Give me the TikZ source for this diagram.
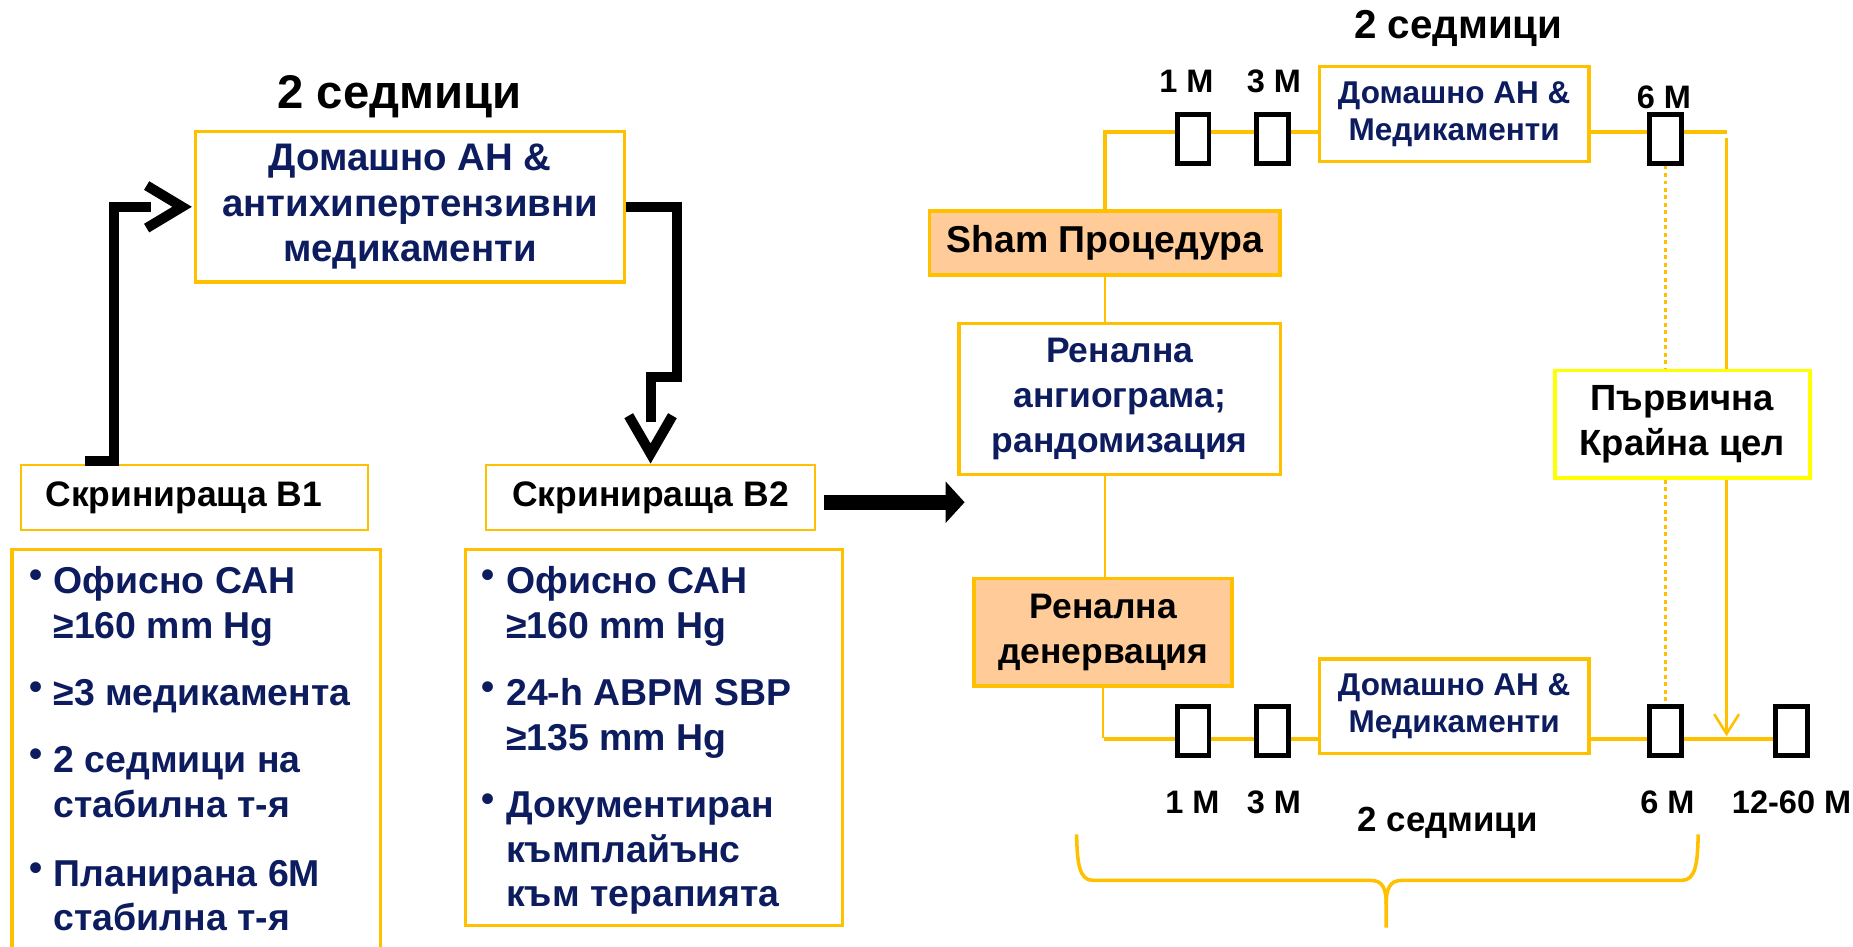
\documentclass[tikz,border=0pt]{standalone}
\usepackage{fontspec}
\setmainfont{Liberation Sans}
\usetikzlibrary{arrows.meta,calc}
\pgfdeclarelayer{bg}
\pgfsetlayers{bg,main}
\definecolor{gold}{HTML}{FFC000}
\definecolor{navy}{HTML}{0C1C5E}
\definecolor{peach}{HTML}{FFCC99}
\definecolor{brightyellow}{HTML}{FFFF00}
\newlength\sunit
\setlength\sunit{0.6pt}
\newcommand\fsz[2]{\fontsize{#1}{#2}\selectfont\bfseries}
\begin{document}
\begin{tikzpicture}[x=0.6pt,y=-0.6pt,
 every node/.style={inner sep=0pt},
 goldbox/.style={draw=gold, fill=white, line width=1.7pt, align=center},
 labelbox/.style={draw=gold, fill=white, line width=0.9pt, align=center, text=black, font=\fsz{18}{22}},
 listbox/.style={draw=gold, line width=1.8pt},
 peachbox/.style={draw=gold, fill=peach, line width=2pt, align=center, text=black},
 msbox/.style={draw=black, fill=white, line width=2.5pt, minimum width=27\sunit, minimum height=41\sunit},
 mlabel/.style={anchor=base, font=\fsz{16.5}{20}},
 listtext/.style={anchor=base west, text=navy, font=\fsz{19}{23}},
 listbullet/.style={text=navy, font=\fsz{19}{23}},
 elbow/.style={draw=black, line width=5.1pt, line join=miter},
 chev/.style={draw=black, line width=5.1pt, line join=miter},
 bigarrow/.style={draw=black, line width=7.8pt, -{Triangle[length=9.6pt,width=20.4pt]}},
 tline/.style={draw=gold, line width=2pt},
 vline/.style={draw=gold, line width=1.3pt},
 dotline/.style={draw=gold, line width=1.3pt, dash pattern=on 2pt off 1.8pt},
 bracestyle/.style={draw=gold, line width=1.8pt}
]
\useasboundingbox (0,0) rectangle (1568,801);
\clip (0,0) rectangle (1568,801);

% ---------- left part ----------
\node[anchor=base, font=\fsz{24}{28}] (t1) at (338,92) {2 седмици};
\node[goldbox, minimum width=363\sunit, minimum height=127\sunit, text=navy, font=\fsz{19.5}{23}] (top) at (347,175) {Домашно АН \&\\антихипертензивни\\медикаменти};
\node[labelbox, minimum width=294\sunit, minimum height=55\sunit] (b1) at (164.5,421) {Скринираща B1\hspace*{18\sunit}};
\node[labelbox, minimum width=278\sunit, minimum height=55\sunit] (b2) at (550.5,421) {Скринираща B2};
\node[listbox, minimum width=312\sunit, minimum height=380\sunit, anchor=north west] (l1) at (8.5,463.5) {};
\node[listbox, minimum width=319\sunit, minimum height=318\sunit, anchor=north west] (l2) at (392.5,463.5) {};

\foreach \x/\y/\t [count=\i] in {45/502/Офисно САН, 45/540/≥160 mm Hg, 45/597/≥3 медикамента, 45/654/2 седмици на, 45/692/стабилна т-я, 45/750/Планирана 6M, 45/787/стабилна т-я, 428/502/Офисно САН, 428/540/≥160 mm Hg, 428/597/24-h ABPM SBP, 428/635/≥135 mm Hg, 428/692/Документиран, 428/730/къмплайънс, 428/767/към терапията}
  \node[listtext] (p\i) at (\x,\y) {\t};
\foreach \x/\y [count=\i] in {30.5/489.5, 30.5/584.5, 30.5/641.5, 30.5/737.5, 413/489.5, 413/584.5, 413/679.5}
  \node[listbullet] (bu\i) at (\x,\y) {•};

% black elbow connectors
\draw[elbow] ($(b1.north west)+(55,-3)$) -- ++(25,0) |- ($(top.west)+(-36,0)$);
\draw[chev] ($(top.west)+(-40,-18)$) -- ($(top.west)+(-10,0)$) -- ($(top.west)+(-40,18)$);
\draw[elbow] (top.east) -- ++(43,0) -- ++(0,144) -| ($(b2.north)+(0,-36)$);
\draw[chev] ($(b2.north)+(-18.5,-41)$) -- ($(b2.north)+(0,-9)$) -- ($(b2.north)+(18.5,-41)$);
\draw[bigarrow] ($(b2.east)+(7,4)$) -- ($(b2.east)+(126,4)$);

% ---------- right part ----------
\node[anchor=base, font=\fsz{20.5}{24}] (t2) at (1234,32.5) {2 седмици};
\node[mlabel] (m1t) at (1004,78) {1 M};
\node[mlabel] (m3t) at (1078,78) {3 M};
\node[mlabel] (m6t) at (1408,92) {6 M};
\node[goldbox, minimum width=228\sunit, minimum height=80\sunit, text=navy, font=\fsz{16}{19}] (dt) at (1230.5,96.5) {Домашно АН \&\\Медикаменти};
\node[msbox] (r1t) at (1009.5,117.5) {};
\node[msbox] (r3t) at (1077,117.5) {};
\node[msbox] (r6t) at (1409.5,117.5) {};
\node[peachbox, minimum width=297\sunit, minimum height=54\sunit, font=\fsz{19}{23}] (sham) at (935,205.5) {Sham Процедура};
\node[goldbox, minimum width=272\sunit, minimum height=128\sunit, text=navy, font=\fsz{18}{23}] (angio) at (947.5,337.5) {Ренална\\ангиограма;\\рандомизация};
\node[draw=brightyellow, fill=white, line width=2pt, align=center, minimum width=216\sunit, minimum height=91\sunit, font=\fsz{18.5}{23}] (prim) at (1423.5,359) {Първична\\Крайна цел};
\node[peachbox, minimum width=218\sunit, minimum height=91\sunit, font=\fsz{18}{23}] (den) at (933.5,535) {Ренална\\денервация};
\node[goldbox, minimum width=228\sunit, minimum height=80\sunit, text=navy, font=\fsz{16}{19}] (db) at (1230.5,597.5) {Домашно АН \&\\Медикаменти};
\node[msbox] (r1b) at (1009.5,618.5) {};
\node[msbox] (r3b) at (1077,618.5) {};
\node[msbox] (r6b) at (1409.5,618.5) {};
\node[msbox] (r12b) at (1516,618.5) {};
\node[mlabel] (m1b) at (1009,688) {1 M};
\node[mlabel] (m3b) at (1078,688) {3 M};
\node[mlabel] (m6b) at (1411,688) {6 M};
\node[mlabel] (m12b) at (1516,688) {12-60 M};
\node[anchor=base, font=\fsz{17.7}{20}] (t3) at (1225,704) {2 седмици};

\begin{pgfonlayer}{bg}
\coordinate (tEnd) at (1461,112);
\draw[tline] (sham.north) |- (tEnd);
\coordinate (bStart) at (934,625);
\draw[tline] (bStart) -- (bStart -| r12b.west);
\end{pgfonlayer}

\coordinate (tDown) at (1461,117);
\coordinate (arrEnd) at (1461,623);
\draw[vline] (sham.south) -- (sham.south |- angio.north);
\draw[vline] (sham.south |- angio.south) -- (sham.south |- den.north);
\draw[vline] (den.south) -- ++(0,42);
\draw[vline] (tDown) -- (tDown |- prim.north);
\draw[vline, -{Straight Barb[length=10pt,width=12.6pt]}] (tDown |- prim.south) -- (arrEnd);
\draw[dotline] (r6t.south) -- (r6t.south |- prim.north);
\draw[dotline] (r6t.south |- prim.south) -- (r6b.north);

% brace
\draw[bracestyle] (911,706) .. controls (911.5,730) and (913,745) .. (925,745) -- (1160,745) .. controls (1170,745) and (1173,752) .. (1173,765) -- (1173,785);
\draw[bracestyle] (1437,706) .. controls (1436.5,730) and (1435,745) .. (1423,745) -- (1186,745) .. controls (1176,745) and (1173,752) .. (1173,765);
\end{tikzpicture}
\end{document}
